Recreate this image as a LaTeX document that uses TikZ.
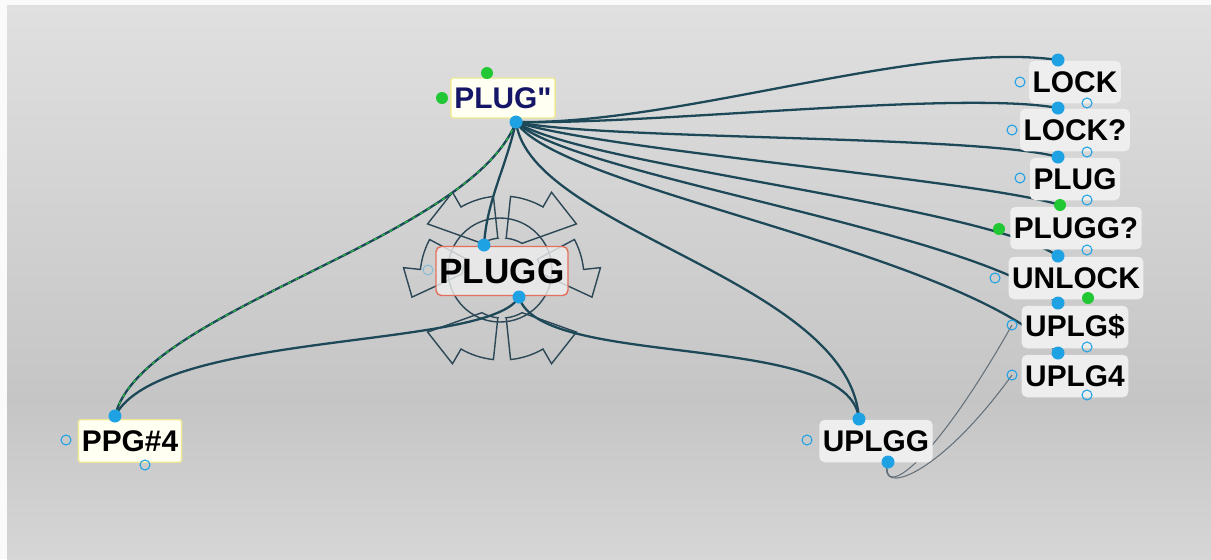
\documentclass[tikz,border=0pt]{standalone}
\usepackage{fontspec}
\setmainfont{Liberation Sans}[Ligatures=TeXOff]
\definecolor{wireteal}{RGB}{28,72,88}
\definecolor{gearslate}{RGB}{44,72,86}
\definecolor{thingray}{RGB}{100,112,122}
\definecolor{dotblue}{RGB}{30,162,228}
\definecolor{dotgreen}{RGB}{34,200,52}
\definecolor{boxgray}{RGB}{238,238,238}
\definecolor{boxyellow}{RGB}{255,255,242}
\definecolor{rimyellow}{RGB}{238,232,150}
\definecolor{rimred}{RGB}{226,112,92}
\definecolor{navytext}{RGB}{22,22,104}
\definecolor{bgtop}{RGB}{224,224,224}
\definecolor{bgmid}{RGB}{197,197,197}
\definecolor{bgbot}{RGB}{214,214,214}
\pgfdeclarelayer{back}
\pgfdeclarelayer{wires}
\pgfsetlayers{back,wires,main}
% one curved arrow of the ring round PLUGG: start angle, end angle, tip angle
\newcommand{\gearbit}[3]{%
  \draw[gearline] (#1:40) -- plot[domain=#1:#2, samples=12] (\x:82)
    -- (#2:99) -- (#3:92)
    -- plot[domain=#2:#1, samples=12] (\x:40) -- cycle;}
\begin{document}
\begin{tikzpicture}[x=0.02cm, y=-0.02cm,
    namebox/.style={rounded corners=3pt, fill=boxgray, inner xsep=2pt, inner ysep=0pt,
      minimum height=0.85cm, font=\fontsize{17}{17}\selectfont\bfseries},
    yellowbox/.style={namebox, fill=boxyellow, draw=rimyellow, line width=0.8pt, rounded corners=1pt},
    bluedot/.style={circle, fill=dotblue, inner sep=0pt, minimum size=0.26cm},
    greendot/.style={circle, fill=dotgreen, inner sep=0pt, minimum size=0.24cm},
    ringdot/.style={circle, draw=dotblue, line width=0.6pt, inner sep=0pt, minimum size=0.2cm},
    wire/.style={draw=wireteal, line width=1.3pt},
    thinwire/.style={draw=thingray, line width=0.6pt},
    gearline/.style={draw=gearslate, line width=0.8pt}]

  \begin{pgfonlayer}{back}
    \fill[white!96!gray] (0,0) rectangle (1211,559);
    \fill[top color=bgtop, bottom color=bgmid] (7,5) rectangle (1211,400);
    \fill[top color=bgmid, bottom color=bgbot] (7,400) rectangle (1211,559);
  \end{pgfonlayer}

  % boxes
  \node[yellowbox, text=navytext, minimum height=0.8cm] (plugq) at (503,98) {PLUG"};
  \node[namebox, draw=rimred, line width=0.8pt, fill opacity=0.8, text opacity=1,
    minimum height=0.98cm, font=\fontsize{20}{20}\selectfont\bfseries] (plugg) at (502,271) {PLUGG};
  \node[yellowbox] (ppg) at (130,441) {PPG\#4};
  \node[namebox] (uplgg) at (876,441) {UPLGG};
  \node[namebox] (lock) at (1075,82) {LOCK};
  \node[namebox] (lockq) at (1075,130) {LOCK?};
  \node[namebox] (plug) at (1075,179) {PLUG};
  \node[namebox] (pluggq) at (1076,228) {PLUGG?};
  \node[namebox] (unlock) at (1076,278) {UNLOCK};
  \node[namebox] (uplgs) at (1075,327) {UPLG\$};
  \node[namebox] (uplgf) at (1075,376) {UPLG4};

  % ports
  \node[greendot] (plugqW) at (442,98) {};
  \node[greendot] (plugqN) at (487,73) {};
  \node[bluedot] (plugqS) at (516,122) {};
  \node[bluedot] (pluggN) at (484,245) {};
  \node[bluedot] (pluggS) at (519,297) {};
  \node[ringdot, draw opacity=0.4] (pluggW) at (428,270) {};
  \node[bluedot] (ppgN) at (115,416) {};
  \node[ringdot] (ppgW) at (66,440) {};
  \node[ringdot] (ppgS) at (145,465) {};
  \node[bluedot] (uplggN) at (859,419) {};
  \node[bluedot] (uplggS) at (888,462) {};
  \node[ringdot] (uplggW) at (807,440) {};
  \node[bluedot] (lockN) at (1058,60) {};
  \node[ringdot] (lockW) at (1020,82) {};
  \node[ringdot] (lockSE) at (1087,103) {};
  \node[bluedot] (lockqN) at (1058,108) {};
  \node[ringdot] (lockqW) at (1012,130) {};
  \node[ringdot] (lockqSE) at (1087,152) {};
  \node[bluedot] (plugN) at (1058,157) {};
  \node[ringdot] (plugW) at (1020,178) {};
  \node[ringdot] (plugSE) at (1087,200) {};
  \node[greendot] (pluggqN) at (1060,205) {};
  \node[greendot] (pluggqW) at (999,229) {};
  \node[ringdot] (pluggqSE) at (1087,250) {};
  \node[bluedot] (unlockN) at (1058,256) {};
  \node[ringdot] (unlockW) at (995,278) {};
  \node[greendot] (unlockSE) at (1088,298) {};
  \node[bluedot] (uplgsN) at (1058,303) {};
  \node[ringdot] (uplgsW) at (1012,325) {};
  \node[ringdot] (uplgsSE) at (1087,347) {};
  \node[bluedot] (uplgfN) at (1058,353) {};
  \node[ringdot] (uplgfW) at (1012,375) {};
  \node[ringdot] (uplgfSE) at (1087,395) {};

  \begin{pgfonlayer}{wires}
    % ring of arrows round PLUGG
    \begin{scope}[shift={(502,278)}]
      \gearbit{-84}{-60}{-36}
      \gearbit{-96}{-120}{-144}
      \gearbit{-28}{-6}{12}
      \gearbit{-152}{-174}{-192}
      \gearbit{84}{60}{36}
      \gearbit{96}{120}{144}
    \end{scope}
    \draw[gearline] (500,270) circle (1.04cm);

    \draw[wire] (plugqS.center) .. controls (680,125) and (920,40) .. (lockN.center);
    \draw[wire] (plugqS.center) .. controls (650,125) and (960,90) .. (lockqN.center);
    \draw[wire] (plugqS.center) .. controls (600,140) and (980,135) .. (plugN.center);
    \draw[wire] (plugqS.center) .. controls (600,150) and (980,180) .. (pluggqN.center);
    \draw[wire] (plugqS.center) .. controls (580,165) and (980,205) .. (unlockN.center);
    \draw[wire] (plugqS.center) .. controls (570,175) and (970,230) .. (uplgsN.center);
    \draw[wire] (plugqS.center) .. controls (560,190) and (960,250) .. (uplgfN.center);
    \draw[wire] (plugqS.center) .. controls (505,170) and (487,200) .. (pluggN.center);
    \draw[wire] (plugqS.center) .. controls (530,230) and (850,280) .. (uplggN.center);
    \draw[wire] (plugqS.center) .. controls (470,240) and (140,310) .. (ppgN.center);
    \draw[dotgreen, line width=0.6pt, dash pattern=on 2pt off 3pt]
      (plugqS.center) .. controls (470,240) and (140,310) .. (ppgN.center);
    \draw[wire] (pluggS.center) .. controls (490,350) and (160,330) .. (ppgN.center);
    \draw[wire] (pluggS.center) .. controls (540,370) and (850,330) .. (uplggN.center);
    \draw[thinwire] (uplggS.center) .. controls (880,500) and (930,470) .. (uplgsW.center);
    \draw[thinwire] (uplggS.center) .. controls (876,496) and (936,480) .. (uplgfW.center);
  \end{pgfonlayer}
\end{tikzpicture}
\end{document}
